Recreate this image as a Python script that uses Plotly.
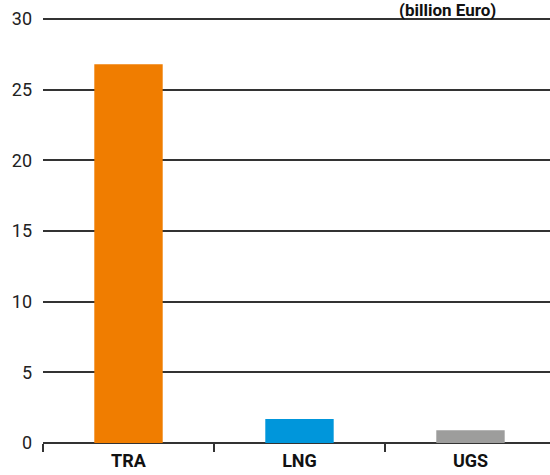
import plotly.graph_objects as go

categories = ["TRA", "LNG", "UGS"]
values = [26.8, 1.7, 0.9]
colors = ["#F07D00", "#0096DB", "#9D9D9C"]
y_ticks = [0, 5, 10, 15, 20, 25, 30]
title_text = "(billion Euro)"

FONT = "Liberation Sans Narrow, Roboto, Arial, sans-serif"

fig = go.Figure()
fig.add_trace(go.Bar(x=categories, y=values, marker=dict(color=colors, line=dict(width=0)),
                     width=0.4, hoverinfo="skip"))

fig.update_layout(
    width=550, height=475,
    margin=dict(l=43, r=0, t=18, b=32, pad=0),
    plot_bgcolor="white", paper_bgcolor="white",
    showlegend=False,
    font=dict(family=FONT, size=17, color="#222"),
    xaxis=dict(
        range=[-0.5, 2.465],
        automargin=False,
        showgrid=False,
        ticks="outside", tickson="boundaries", ticklen=8, tickwidth=1.5, tickcolor="#333",
        ticklabelstandoff=5,
        showline=False,
        tickfont=dict(family=FONT, size=18, color="#111", weight="bold"),
        fixedrange=True,
    ),
    yaxis=dict(
        range=[0, 30.08],
        automargin=False,
        tickvals=y_ticks,
        showgrid=True, gridcolor="#333", gridwidth=1.5,
        zeroline=True, zerolinecolor="#333", zerolinewidth=1.5,
        ticks="", ticklabelstandoff=10,
        tickfont=dict(family=FONT, size=18, color="#222"),
        showline=False,
        fixedrange=True,
    ),
    annotations=[dict(
        text="<b>" + title_text + "</b>", xref="paper", yref="paper",
        x=0.797, y=1, xanchor="center", yanchor="top", yshift=20,
        showarrow=False, font=dict(family=FONT, size=17, color="#111"),
    )],
)

fig.write_html("out.html", config={"displayModeBar": False},
               post_script="document.body.style.margin='0';")
